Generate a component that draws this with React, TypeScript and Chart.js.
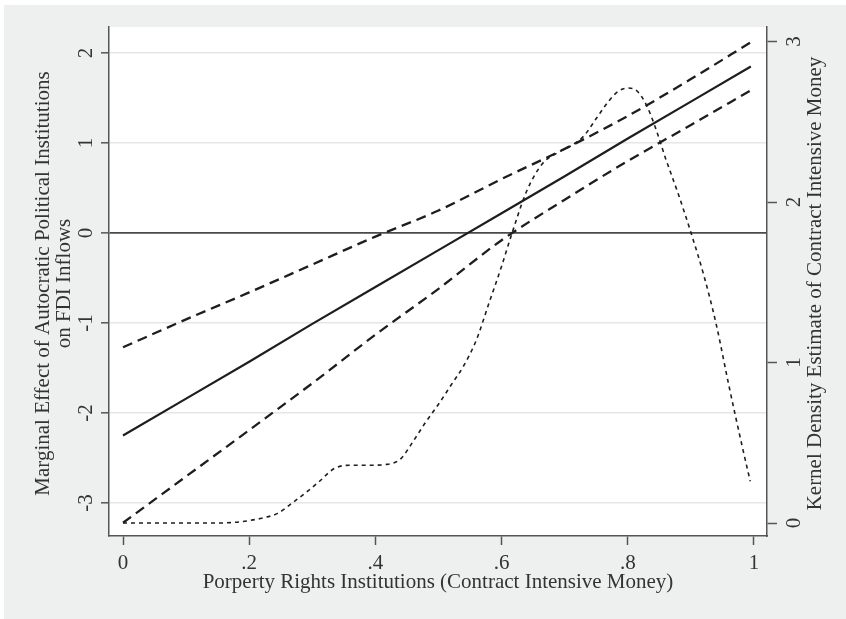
import React, { useEffect, useRef } from "react";
import { Chart, registerables } from "chart.js";

Chart.register(...registerables);

// ---- Data ----
const xGrid = [0, 0.1, 0.2, 0.3, 0.4, 0.5, 0.6, 0.7, 0.8, 0.9, 0.995];
const marginalEffect = [-2.25, -1.84, -1.43, -1.01, -0.6, -0.19, 0.22, 0.63, 1.05, 1.46, 1.85];
const upperCI = [-1.27, -0.96, -0.66, -0.35, -0.04, 0.25, 0.6, 0.935, 1.3, 1.71, 2.12];
const lowerCI = [-3.22, -2.705, -2.19, -1.67, -1.13, -0.62, -0.08, 0.37, 0.8, 1.2, 1.585];

const densityX = [
  0, 0.05, 0.1, 0.15, 0.18, 0.2, 0.22, 0.245, 0.27, 0.29, 0.31, 0.335, 0.36, 0.39, 0.418,
  0.44, 0.46, 0.48, 0.5, 0.52, 0.54, 0.56, 0.58, 0.6, 0.616, 0.64, 0.665, 0.69, 0.71, 0.73,
  0.75, 0.77, 0.785, 0.8, 0.815, 0.83, 0.845, 0.86, 0.88, 0.9, 0.92, 0.94, 0.96, 0.98, 0.994,
];
const densityY = [
  0, 0, 0, 0, 0.005, 0.015, 0.03, 0.06, 0.13, 0.19, 0.255, 0.34, 0.36, 0.36, 0.365,
  0.4, 0.51, 0.63, 0.74, 0.86, 0.98, 1.14, 1.37, 1.6, 1.8, 2.07, 2.24, 2.31, 2.35, 2.41,
  2.52, 2.63, 2.69, 2.71, 2.69, 2.6, 2.45, 2.27, 2.05, 1.81, 1.55, 1.24, 0.86, 0.5, 0.26,
];

const xTicks = [0, 0.2, 0.4, 0.6, 0.8, 1];
const xTickLabels = ["0", ".2", ".4", ".6", ".8", "1"];
const leftTicks = [-3, -2, -1, 0, 1, 2];
const rightTicks = [0, 1, 2, 3];

const xTitle = "Porperty Rights Institutions (Contract Intensive Money)";
const leftTitle1 = "Marginal Effect of Autocratic Political Institutions";
const leftTitle2 = "on FDI Inflows";
const rightTitle = "Kernel Density Estimate of Contract Intensive Money";

const FONT = '"Liberation Serif", "Times New Roman", serif';
const INK = "#1e1e1e";
const AXIS = "#555555";
const BG = "#eef0ef";

const toPts = (xs: number[], ys: number[]) => xs.map((x, i) => ({ x, y: ys[i] }));

const decorPlugin = {
  id: "decor",
  beforeDraw(chart: any) {
    const { ctx, width, height, chartArea } = chart;
    ctx.save();
    ctx.fillStyle = "#ffffff";
    ctx.fillRect(0, 0, width, height);
    ctx.fillStyle = BG;
    ctx.fillRect(4, 5, width - 4, height - 5);
    ctx.fillStyle = "#ffffff";
    ctx.fillRect(chartArea.left, chartArea.top, chartArea.right - chartArea.left, chartArea.bottom - chartArea.top);
    ctx.restore();
  },
  afterDraw(chart: any) {
    const { ctx, chartArea } = chart;
    const xs = chart.scales.x;
    const yl = chart.scales.y;
    const yr = chart.scales.y2;
    ctx.save();
    ctx.fillStyle = "#333333";
    ctx.font = `21px ${FONT}`;
    ctx.textAlign = "center";
    ctx.textBaseline = "middle";
    // bottom tick labels
    xTicks.forEach((v, i) => {
      ctx.fillText(xTickLabels[i], xs.getPixelForValue(v), 563);
    });
    // x title
    const cx = (chartArea.left + chartArea.right) / 2;
    ctx.fillText(xTitle, cx, 582);
    // left tick labels (rotated)
    leftTicks.forEach((v) => {
      const y = yl.getPixelForValue(v);
      ctx.save();
      ctx.translate(86, y);
      ctx.rotate(-Math.PI / 2);
      ctx.fillText(v < 0 ? "-" + Math.abs(v) : String(v), 0, 0);
      ctx.restore();
    });
    // right tick labels (rotated)
    rightTicks.forEach((v) => {
      const y = yr.getPixelForValue(v);
      ctx.save();
      ctx.translate(794, y);
      ctx.rotate(-Math.PI / 2);
      ctx.fillText(String(v), 0, 0);
      ctx.restore();
    });
    const cy = (chartArea.top + chartArea.bottom) / 2 + 2;
    // left titles
    ctx.save();
    ctx.translate(43, cy);
    ctx.rotate(-Math.PI / 2);
    ctx.fillText(leftTitle1, 0, 0);
    ctx.restore();
    ctx.save();
    ctx.translate(64, cy);
    ctx.rotate(-Math.PI / 2);
    ctx.fillText(leftTitle2, 0, 0);
    ctx.restore();
    // right title
    ctx.save();
    ctx.translate(815, cy);
    ctx.rotate(-Math.PI / 2);
    ctx.fillText(rightTitle, 0, 0);
    ctx.restore();
    ctx.restore();
  },
};

export default function App() {
  const ref = useRef<HTMLCanvasElement | null>(null);
  useEffect(() => {
    document.body.style.margin = "0";
    document.body.style.background = "#ffffff";
    if (!ref.current) return;
    const chart = new Chart(ref.current, {
      type: "line",
      data: {
        datasets: [
          {
            label: "Kernel density",
            data: toPts(densityX, densityY),
            yAxisID: "y2",
            borderColor: INK,
            borderWidth: 1.6,
            borderDash: [4, 4],
            pointRadius: 0,
            cubicInterpolationMode: "monotone",
            fill: false,
          },
          {
            label: "Upper CI",
            data: toPts(xGrid, upperCI),
            yAxisID: "y",
            borderColor: INK,
            borderWidth: 2.3,
            borderDash: [10, 6],
            pointRadius: 0,
            cubicInterpolationMode: "monotone",
            fill: false,
          },
          {
            label: "Lower CI",
            data: toPts(xGrid, lowerCI),
            yAxisID: "y",
            borderColor: INK,
            borderWidth: 2.3,
            borderDash: [10, 6],
            pointRadius: 0,
            cubicInterpolationMode: "monotone",
            fill: false,
          },
          {
            label: "Marginal effect",
            data: toPts(xGrid, marginalEffect),
            yAxisID: "y",
            borderColor: INK,
            borderWidth: 2.2,
            pointRadius: 0,
            tension: 0,
            fill: false,
          },
        ],
      },
      options: {
        responsive: false,
        animation: false,
        events: [],
        layout: { padding: { top: 27, left: 0, right: 0, bottom: 0 } },
        plugins: { legend: { display: false }, tooltip: { enabled: false } },
        scales: {
          x: {
            type: "linear",
            position: "bottom",
            min: -14 / 631,
            max: 644 / 631,
            afterBuildTicks: (s: any) => {
              s.ticks = xTicks.map((v) => ({ value: v }));
            },
            afterFit: (s: any) => {
              s.height = 83;
            },
            ticks: { display: false },
            grid: {
              drawOnChartArea: false,
              drawTicks: true,
              tickLength: 9,
              tickColor: AXIS,
              tickWidth: 1.5,
            },
            border: { display: true, color: AXIS, width: 1.5 },
          },
          y: {
            type: "linear",
            position: "left",
            min: -303 / 90,
            max: 206 / 90,
            afterBuildTicks: (s: any) => {
              s.ticks = leftTicks.map((v) => ({ value: v }));
            },
            afterFit: (s: any) => {
              s.width = 109;
            },
            ticks: { display: false },
            grid: {
              drawOnChartArea: true,
              drawTicks: true,
              tickLength: 8,
              tickColor: AXIS,
              tickWidth: 1.5,
              color: (c: any) => (c.tick && c.tick.value === 0 ? "#4a4a4a" : "#e6e6e6"),
              lineWidth: (c: any) => (c.tick && c.tick.value === 0 ? 1.7 : 1.6),
            },
            border: { display: true, color: AXIS, width: 1.5 },
          },
          y2: {
            type: "linear",
            position: "right",
            min: -13 / 160.5,
            max: 496 / 160.5,
            afterBuildTicks: (s: any) => {
              s.ticks = rightTicks.map((v) => ({ value: v }));
            },
            afterFit: (s: any) => {
              s.width = 79;
            },
            ticks: { display: false },
            grid: {
              drawOnChartArea: false,
              drawTicks: true,
              tickLength: 10,
              tickColor: AXIS,
              tickWidth: 1.5,
            },
            border: { display: true, color: AXIS, width: 1.5 },
          },
        },
      },
      plugins: [decorPlugin],
    } as any);
    return () => chart.destroy();
  }, []);
  return <canvas ref={ref} width={846} height={619} style={{ display: "block" }} />;
}
